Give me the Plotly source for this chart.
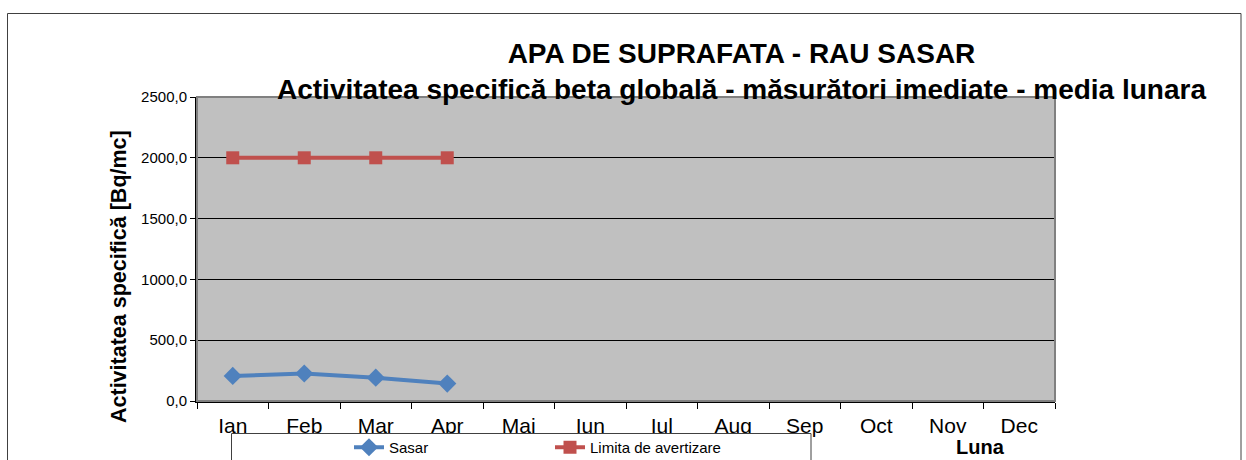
import plotly.graph_objects as go

months = ["Ian", "Feb", "Mar", "Apr", "Mai", "Iun", "Iul", "Aug", "Sep", "Oct", "Nov", "Dec"]
sasar_months = ["Ian", "Feb", "Mar", "Apr"]
sasar_values = [206, 226, 192, 143]
limita_values = [2000, 2000, 2000, 2000]
y_ticks = [0, 500, 1000, 1500, 2000, 2500]

FONT = "Liberation Sans, Arial, sans-serif"
W, H = 1246, 460
L, R, T, B = 197, 1055, 97, 401

fig = go.Figure()
fig.add_trace(go.Scatter(
    x=sasar_months, y=sasar_values, name="Sasar", mode="lines+markers",
    line=dict(color="#4F81BD", width=4),
    marker=dict(symbol="diamond", size=14, color="#4F81BD"),
))
fig.add_trace(go.Scatter(
    x=sasar_months, y=limita_values, name="Limita de avertizare", mode="lines+markers",
    line=dict(color="#C0504D", width=4),
    marker=dict(symbol="square", size=13, color="#C0504D"),
))

def px_x(p):
    return (p - L) / (R - L)

def px_y(p):
    return (B - p) / (B - T)

shapes = [
    # outer frame
    dict(type="rect", xref="paper", yref="paper", x0=px_x(7.5), x1=px_x(1241), y0=px_y(480), y1=px_y(13.5),
         line=dict(color="#404040", width=1), layer="below"),
    # plot border (gray)
    dict(type="rect", xref="paper", yref="paper", x0=0, x1=1, y0=0, y1=1,
         line=dict(color="#808080", width=2), layer="above"),
    # legend box
    dict(type="rect", xref="paper", yref="paper", x0=px_x(231.5), x1=px_x(811), y0=px_y(470), y1=px_y(433.5),
         line=dict(color="#404040", width=1), fillcolor="white", layer="above"),
]

fig.update_layout(
    width=W, height=H,
    margin=dict(l=L, r=W - R, t=T, b=H - B, pad=0, autoexpand=False),
    paper_bgcolor="white",
    plot_bgcolor="#C0C0C0",
    separators=",.",
    font=dict(family=FONT, color="black"),
    showlegend=True,
    legend=dict(
        orientation="h", x=px_x(349), xanchor="left", y=px_y(431), yanchor="top",
        bgcolor="rgba(0,0,0,0)", borderwidth=0,
        font=dict(size=15, family=FONT), entrywidth=156, entrywidthmode="pixels",
        itemclick=False,
    ),
    shapes=shapes,
    annotations=[
        dict(text="<b>APA DE SUPRAFATA - RAU SASAR</b><br><b>Activitatea specifică beta globală - măsurători imediate - media lunara</b>",
             xref="paper", yref="paper", x=px_x(741), y=px_y(36), xanchor="center", yanchor="top",
             showarrow=False, align="center", font=dict(size=28, family=FONT)),
        dict(text="<b>Activitatea specifică [Bq/mc]</b>", textangle=-90,
             xref="paper", yref="paper", x=px_x(119), y=px_y(277), xanchor="center", yanchor="middle",
             showarrow=False, font=dict(size=21.5, family=FONT)),
        dict(text="<b>Luna</b>", xref="paper", yref="paper", x=px_x(980), y=px_y(447),
             xanchor="center", yanchor="middle", showarrow=False, font=dict(size=20, family=FONT)),
    ],
)

fig.update_xaxes(
    type="category", categoryorder="array", categoryarray=months,
    range=[-0.5, 11.5], tickson="boundaries", ticks="outside", ticklen=6, tickcolor="black",
    tickfont=dict(size=21, family=FONT), showgrid=False, ticklabelstandoff=5,
    showline=True, linecolor="black", linewidth=1.5, zeroline=False,
)
fig.update_yaxes(
    range=[0, 2500], tickvals=y_ticks, tickformat=".1f", ticks="outside", ticklen=5, tickcolor="black",
    tickfont=dict(size=15, family=FONT), showgrid=True, gridcolor="#000000", gridwidth=1,
    showline=True, linecolor="black", linewidth=2, zeroline=False,
)

fig.write_html("out.html", config={"displayModeBar": False},
               post_script="document.body.style.margin='0px';")
